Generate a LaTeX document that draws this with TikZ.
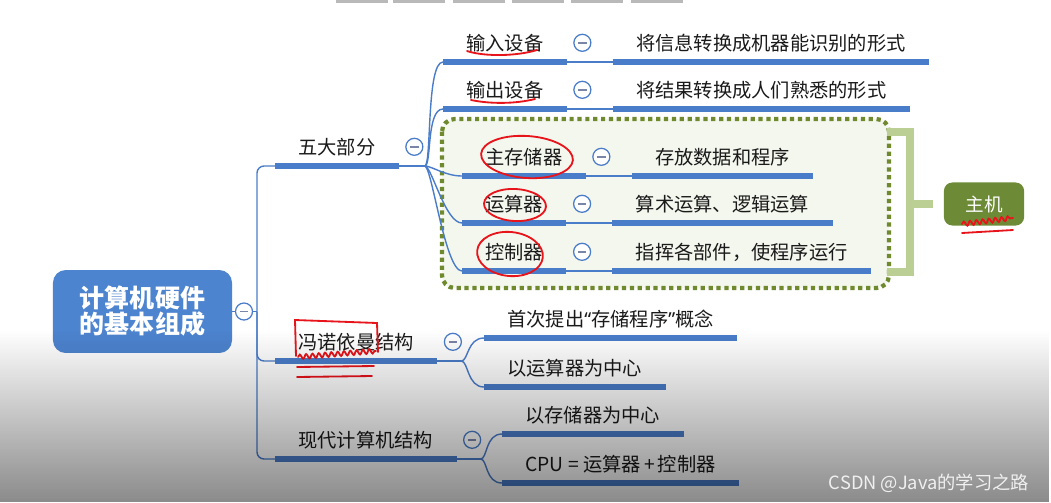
\documentclass[tikz,border=0pt]{standalone}
\usepackage{fontspec}
\setmainfont{Noto Sans CJK SC}
\newfontfamily\quotefont{Noto Sans}
\usetikzlibrary{calc,positioning,fadings,decorations.pathmorphing}
\definecolor{mapBlue}{RGB}{74,125,201}
\definecolor{rootBlue}{RGB}{77,132,207}
\definecolor{foldGray}{RGB}{122,134,168}
\definecolor{groupDot}{RGB}{111,138,46}
\definecolor{groupFill}{RGB}{244,247,238}
\definecolor{braceGreen}{RGB}{187,207,149}
\definecolor{hostGreen}{RGB}{109,139,54}
\definecolor{inkRed}{RGB}{232,20,27}
\definecolor{textDark}{RGB}{26,26,26}
\tikzfading[name=dimfade, top color=transparent!100, middle color=transparent!88, bottom color=transparent!0]
\newcommand{\topicfont}{\fontsize{13.7pt}{16pt}\selectfont}

\begin{document}
\begin{tikzpicture}[x=0.025cm, y=-0.025cm,
  topic/.style={font=\topicfont, text=textDark, inner xsep=16.4pt, inner ysep=6.6pt, text height=12pt, text depth=1.7pt, anchor=south west},
  bar/.style={draw=mapBlue, line width=4pt},
  link/.style={draw=mapBlue, line width=1pt},
  branch/.style={link, out=0, in=180, out distance=5pt, in distance=12pt},
  foldmark/.style={circle, draw=mapBlue, line width=0.9pt, fill=white, minimum size=12.1pt, inner sep=0pt,
    path picture={\draw[foldGray, line width=1pt] ([xshift=-3pt]path picture bounding box.center) -- ([xshift=3pt]path picture bounding box.center);}},
  ink/.style={draw=inkRed, line width=1.3pt, line cap=round},
  wavy/.style={ink, decorate, decoration={snake, amplitude=1.6pt, segment length=4.5pt}}]
\fill[white] (0,0) rectangle (1051,502);
\foreach \tx in {336,393,453,512,571,631}
  \fill[gray!55] (\tx,0) rectangle ++(52,3);

\draw[groupDot, fill=groupFill, line width=3pt, dash pattern=on 3pt off 2.6pt, rounded corners=9pt] (442,119) rectangle (889,288);

\node[rectangle, rounded corners=6pt, fill=hostGreen, minimum width=57pt, minimum height=30.6pt, text=white, font=\fontsize{13.2pt}{15pt}\selectfont] (host) at (984,204) {主机};
\coordinate (braceTop) at (887,132);
\coordinate (braceBot) at (887,272);
\coordinate (braceMid) at (910,204);
\draw[braceGreen, line width=5pt] (braceTop) -| (910,272) -- (braceBot);
\draw[braceGreen, line width=5pt, shorten >=7.8pt] (braceMid) -- (host);

\node[rectangle, rounded corners=9pt, fill=rootBlue, minimum width=127.3pt, minimum height=59pt, text=white, align=center, font=\fontsize{17.8pt}{18.5pt}\selectfont\bfseries] (root) at (142.5,311.5) {计算机硬件\\的基本组成};
\coordinate (trunk) at (257,311.5);

\node[topic] (wuda) at (275,166) {五大部分};
\node[topic] (input) at (443,62) {输入设备};
\node[topic, right=32.7pt of input] (inputVal) {将信息转换成机器能识别的形式};
\node[topic] (output) at (443,109) {输出设备};
\node[topic, right=32.7pt of output] (outputVal) {将结果转换成人们熟悉的形式};
\node[topic] (memory) at (462,176) {主存储器};
\node[topic, right=32.7pt of memory] (memoryVal) {存放数据和程序};
\node[topic] (alu) at (462,223) {运算器};
\node[topic, right=32.7pt of alu] (aluVal) {算术运算、逻辑运算};
\node[topic] (ctrl) at (462,271) {控制器};
\node[topic, right=32.7pt of ctrl] (ctrlVal) {指挥各部件，使程序运行};

\node[topic] (vonn) at (275,361) {冯诺依曼结构};
\node[topic] (storedProg) at (484,338) {首次提出{\quotefont“}存储程序{\quotefont”}概念};
\node[topic] (aluCenter) at (484,387) {以运算器为中心};

\node[topic] (modern) at (275,459) {现代计算机结构};
\node[topic] (memCenter) at (502,434) {以存储器为中心};
\node[topic] (cpuDef) at (502,483) {CPU = 运算器\,+\,控制器};

\foreach \n in {wuda,input,inputVal,output,outputVal,memory,memoryVal,alu,aluVal,ctrl,ctrlVal,vonn,storedProg,aluCenter,modern,memCenter,cpuDef}
  \draw[bar] (\n.south west) -- (\n.south east);

\draw[link] (root.east) -- (trunk);
\foreach \n in {wuda,vonn,modern}
  \draw[link, rounded corners=5pt] (trunk) |- (\n.south west);

\coordinate (wudaFan) at ($(wuda.south east)+(26,0)$);
\draw[link] (wuda.south east) -- (wudaFan);
\foreach \n in {input,output,memory,alu,ctrl}
  \draw[branch] (wudaFan) to (\n.south west);
\foreach \k/\v in {input/inputVal,output/outputVal,memory/memoryVal,alu/aluVal,ctrl/ctrlVal}
  \draw[link] (\k.south east) -- (\v.south west);

\coordinate (vonnFan) at ($(vonn.south east)+(24,0)$);
\draw[link] (vonn.south east) -- (vonnFan);
\foreach \n in {storedProg,aluCenter}
  \draw[branch] (vonnFan) to (\n.south west);

\coordinate (modernFan) at ($(modern.south east)+(24,0)$);
\draw[link] (modern.south east) -- (modernFan);
\foreach \n in {memCenter,cpuDef}
  \draw[branch] (modernFan) to (\n.south west);

\node[foldmark] (rootFold) at (244,311.5) {};
\foreach \n in {wuda,input,output,memory,alu,ctrl,vonn,modern}
  \node[foldmark, right=4.6pt of \n] (\n Fold) {};

\draw[ink] (467,51) .. controls (485,57) and (518,56) .. (537,50);
\draw[ink] (471,100) .. controls (490,104) and (515,104) .. (535,99);
\draw[ink, rotate around={-4:(527,157)}] (527,157) ellipse [x radius=46, y radius=21];
\draw[ink, rotate around={-3:(515,205)}] (515,205) ellipse [x radius=31, y radius=16];
\draw[ink, rotate around={-6:(510,254)}] (510,254) ellipse [x radius=33, y radius=22];
\draw[ink] (296,356) -- (295,320) -- (377,323) -- (378,352);
\draw[wavy] (298,357) -- (376,351);
\draw[ink] (297,367) -- (374,366);
\draw[ink] (297,377) -- (372,376);
\draw[wavy] (962,224) -- (1013,218);
\draw[ink] (962,233) -- (1013,230);

\fill[black, opacity=0.46, path fading=dimfade] (0,330) rectangle (1051,502);
\node[font=\fontsize{13pt}{15pt}\selectfont, text=gray!12] (watermark) at (929,483) {CSDN @Java的学习之路};
\end{tikzpicture}
\end{document}
